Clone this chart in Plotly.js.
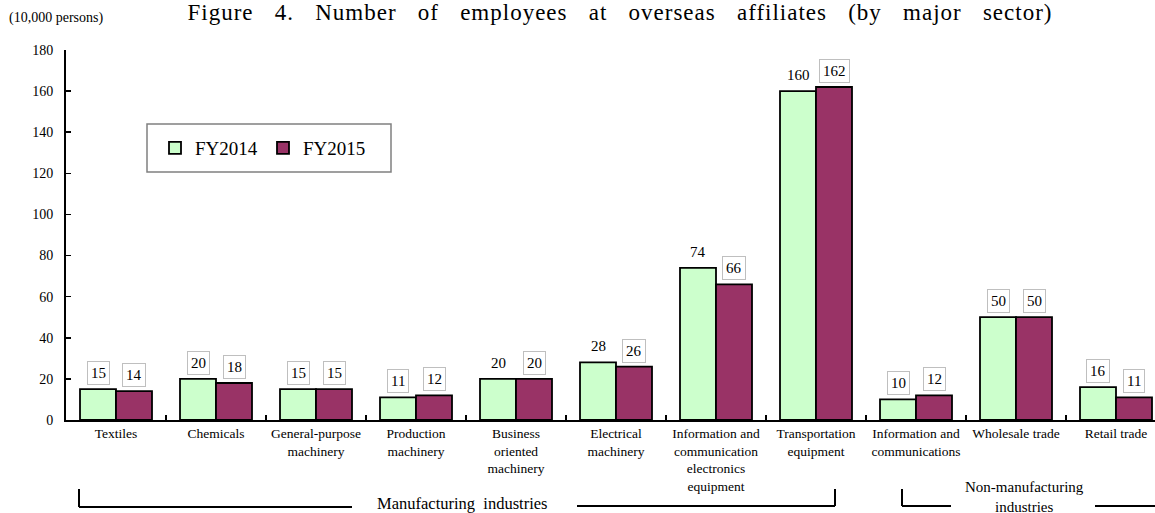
<!DOCTYPE html>
<html>
<head>
<meta charset="utf-8">
<script src="https://cdn.plot.ly/plotly-3.0.1.min.js"></script>
<style>
  html, body { margin: 0; padding: 0; background: #fff; }
  #chart { width: 1155px; height: 513px; }
  .gtitle { letter-spacing: 1px; }
</style>
</head>
<body>
<div id="chart"></div>
<script>
// ---- Data ----
const categories = [
  "Textiles", "Chemicals", "General-purpose machinery", "Production machinery",
  "Business oriented machinery", "Electrical machinery",
  "Information and communication electronics equipment",
  "Transportation equipment", "Information and communications",
  "Wholesale trade", "Retail trade"
];
const tickLabels = [
  "Textiles", "Chemicals", "General-purpose<br>machinery", "Production<br>machinery",
  "Business<br>oriented<br>machinery", "Electrical<br>machinery",
  "Information and<br>communication<br>electronics<br>equipment",
  "Transportation<br>equipment", "Information and<br>communications",
  "Wholesale trade", "Retail trade"
];
const fy2014 = [15, 20, 15, 11, 20, 28, 74, 160, 10, 50, 16];
const fy2015 = [14, 18, 15, 12, 20, 26, 66, 162, 12, 50, 11];
const seriesNames = ["FY2014", "FY2015"];
// labels drawn without a frame in the original
const unboxed2014 = ["Business oriented machinery", "Electrical machinery",
  "Information and communication electronics equipment", "Transportation equipment"];
const unboxed2015 = [];

// ---- Layout geometry helpers (pixel -> paper) ----
const W = 1155, H = 513;
const M = { l: 66, r: 0, t: 50, b: 93 };
const plotW = W - M.l - M.r, plotH = H - M.t - M.b;
const px = x => (x - M.l) / plotW;
const py = y => (H - M.b - y) / plotH;

const FONT = "Liberation Serif, Times New Roman, serif";

const traces = [
  { type: "bar", name: seriesNames[0], x: categories, y: fy2014,
    marker: { color: "#CCFFCC", line: { color: "#000", width: 1.8 } }, hoverinfo: "skip" },
  { type: "bar", name: seriesNames[1], x: categories, y: fy2015,
    marker: { color: "#993366", line: { color: "#000", width: 1.8 } }, hoverinfo: "skip" }
];

const annotations = [];
function addLabels(vals, shift, unboxed) {
  vals.forEach((v, i) => {
    const boxed = !unboxed.includes(categories[i]);
    annotations.push({
      x: categories[i], y: v, xref: "x", yref: "y",
      text: String(v), showarrow: false,
      xanchor: "center", yanchor: "bottom", xshift: shift, yshift: 4,
      font: { family: FONT, size: 15, color: "#000" },
      bgcolor: boxed ? "#fff" : "rgba(0,0,0,0)",
      bordercolor: boxed ? "#BFBFBF" : "rgba(0,0,0,0)",
      borderwidth: 1, borderpad: 3
    });
  });
}
addLabels(fy2014, -18, unboxed2014);
addLabels(fy2015, 18, unboxed2015);

// unit label
annotations.push({
  xref: "paper", yref: "paper", x: px(7), y: py(18), xanchor: "left", yanchor: "middle",
  text: "(10,000 persons)", showarrow: false,
  font: { family: FONT, size: 14, color: "#000" }
});
// group captions
annotations.push({
  xref: "paper", yref: "paper", x: px(462), y: py(504), xanchor: "center", yanchor: "middle",
  text: "Manufacturing\u00A0 industries", showarrow: false,
  font: { family: FONT, size: 16.5, color: "#000" }
});
annotations.push({
  xref: "paper", yref: "paper", x: px(1024), y: py(516), xanchor: "center", yanchor: "bottom",
  text: "Non-manufacturing<br>industries", showarrow: false, borderpad: 0,
  font: { family: FONT, size: 15, color: "#000" }
});

const lineStyle = { color: "#000", width: 2 };
const seg = (x0, y0, x1, y1) => ({
  type: "line", xref: "paper", yref: "paper",
  x0: px(x0), y0: py(y0), x1: px(x1), y1: py(y1), line: lineStyle
});
const shapes = [
  // manufacturing bracket
  seg(79, 489, 79, 507), seg(79, 507, 352, 507),
  seg(577, 506, 835, 506), seg(835, 489, 835, 506),
  // non-manufacturing bracket
  seg(902, 489, 902, 506), seg(902, 506, 951, 506),
  seg(1095, 506, 1160, 506),
  // legend frame
  { type: "rect", xref: "paper", yref: "paper", x0: px(147), x1: px(391), y0: py(172), y1: py(124),
    line: { color: "#808080", width: 1.5 }, fillcolor: "#fff", layer: "below" }
];

const TITLE_TEXT = "Figure 4. Number of employees at overseas affiliates (by major sector)";
const layout = {
  width: W, height: H,
  margin: M,
  paper_bgcolor: "#fff", plot_bgcolor: "#fff",
  font: { family: FONT, color: "#000" },
  title: {
    text: TITLE_TEXT,
    font: { family: FONT, size: 23, color: "#000" },
    x: 620 / W, xanchor: "center", xref: "container", y: 1 - 12 / H, yanchor: "middle", yref: "container"
  },
  barmode: "group", bargap: 0.28, bargroupgap: 0,
  showlegend: true,
  legend: {
    orientation: "h", x: px(155), y: py(148), xanchor: "left", yanchor: "middle",
    bgcolor: "rgba(0,0,0,0)", borderwidth: 0,
    font: { family: FONT, size: 19, color: "#000" },
    entrywidth: 63, itemwidth: 30, traceorder: "normal"
  },
  xaxis: {
    type: "category", range: [-0.5, -0.5 + plotW / 100],
    tickvals: categories, ticktext: tickLabels, tickangle: 0,
    tickson: "boundaries", ticks: "inside", ticklen: 5, tickwidth: 1.5, tickcolor: "#000",
    showline: true, linecolor: "#000", linewidth: 2, showgrid: false, zeroline: false,
    tickfont: { family: FONT, size: 13.5, color: "#000" }, fixedrange: true
  },
  yaxis: {
    range: [0, 180], dtick: 20, tick0: 0,
    ticks: "inside", ticklen: 5, tickwidth: 1.5, tickcolor: "#000",
    showline: true, linecolor: "#000", linewidth: 2, showgrid: false, zeroline: false,
    tickfont: { family: FONT, size: 14, color: "#000" }, ticklabelstandoff: 8, fixedrange: true
  },
  annotations: annotations,
  shapes: shapes
};

Plotly.newPlot("chart", traces, layout, { displayModeBar: false, staticPlot: true }).then(gd => {
  // spread the title words across the same span as the original (x 187..1052)
  const t = gd.querySelector(".gtitle");
  if (t) {
    t.style.wordSpacing = "0px";
    const w0 = t.getBBox().width;
    const gaps = (TITLE_TEXT.match(/ /g) || []).length;
    const ws = Math.max(0, (865 - w0) / gaps);
    t.style.wordSpacing = ws.toFixed(2) + "px";
  }
});
</script>
</body>
</html>
